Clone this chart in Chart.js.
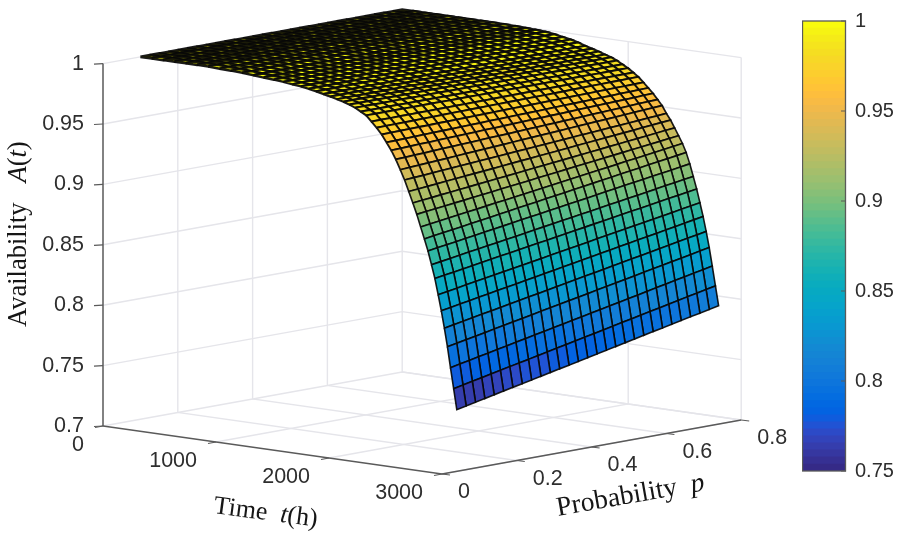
<!DOCTYPE html>
<html>
<head>
<meta charset="utf-8">
<title>Availability surface</title>
<script src="https://cdn.jsdelivr.net/npm/chart.js@4"></script>
<style>
  html, body { margin: 0; padding: 0; background: #fff; }
  #wrap { position: relative; width: 898px; height: 537px; overflow: hidden; }
  canvas { position: absolute; top: 0; }
  #surface { left: 0; }
  #colorbar { left: 802px; }
</style>
</head>
<body>
<div id="wrap">
  <canvas id="surface" width="898" height="537"></canvas>
  <canvas id="colorbar" width="96" height="537"></canvas>
</div>
<script>
// ── Data ────────────────────────────────────────────────────────────────────
const times = [0,100,200,300,400,500,600,700,800,900,1000,1090,1180,1265,1345,1420,1490,1555,1620,1680,1740,1795,1850,1900,1950,1998,2045,2090,2135,2178,2220,2260,2300,2338,2375,2411,2446,2480,2513,2545,2576,2606,2635,2663,2690,2717,2744,2772,2800];
const probs = [.1,.125,.15,.175,.2,.225,.25,.275,.3,.325,.35,.375,.4,.425,.45,.475,.5,.525,.55,.575,.6,.625,.65,.675,.7,.725,.75,.775,.8];

// one row per time, one column per probability
const availability = [
  [1,1,1,1,1,1,1,1,1,1,1,1,1,1,1,1,1,1,1,1,1,1,1,1,1,1,1,1,1],
  [1,1,1,1,1,1,1,1,1,1,1,1,1,1,1,1,1,1,1,1,1,1,1,1,1,1,1,1,1],
  [1,1,1,1,1,1,1,1,1,1,1,1,1,1,1,1,1,1,1,1,1,1,1,1,1,1,1,1,1],
  [1,1,1,1,1,1,1,1,1,1,1,1,1,1,1,1,1,1,1,1,1,1,1,1,1,1,1,1,1],
  [1,1,1,1,1,1,1,1,1,1,1,1,1,1,1,1,1,1,1,1,1,1,1,1,1,1,1,1,1],
  [1,1,1,1,1,1,1,1,1,1,1,1,1,1,1,1,1,1,1,1,1,1,1,1,1,1,1,1,1],
  [1,1,1,1,1,1,1,1,1,1,1,1,1,1,1,1,1,1,1,1,1,1,1,1,1,1,1,1,1],
  [.9995,.9995,.9995,.9996,.9996,.9996,.9996,.9996,.9996,.9997,.9997,.9997,.9997,.9997,.9998,.9998,.9998,.9998,.9998,.9998,.9999,.9999,.9999,.9999,.9999,.9999,1,1,1],
  [.9992,.9992,.9993,.9993,.9993,.9993,.9994,.9994,.9994,.9995,.9995,.9995,.9995,.9996,.9996,.9996,.9997,.9997,.9997,.9997,.9998,.9998,.9998,.9999,.9999,.9999,.9999,1,1],
  [.9987,.9987,.9988,.9988,.9989,.9989,.999,.999,.999,.9991,.9991,.9992,.9992,.9993,.9993,.9993,.9994,.9994,.9995,.9995,.9996,.9996,.9996,.9997,.9997,.9998,.9998,.9999,.9999],
  [.998,.9981,.9981,.9982,.9982,.9983,.9983,.9984,.9985,.9985,.9986,.9986,.9987,.9987,.9988,.9989,.9989,.999,.999,.9991,.9991,.9992,.9993,.9993,.9994,.9994,.9995,.9995,.9996],
  [.9973,.9974,.9974,.9975,.9976,.9977,.9977,.9978,.9979,.9979,.998,.9981,.9982,.9982,.9983,.9984,.9984,.9985,.9986,.9987,.9987,.9988,.9989,.9989,.999,.9991,.9992,.9992,.9993],
  [.9967,.9968,.9969,.9969,.997,.9971,.9972,.9973,.9974,.9974,.9975,.9976,.9977,.9978,.9979,.9979,.998,.9981,.9982,.9983,.9983,.9984,.9985,.9986,.9987,.9988,.9988,.9989,.999],
  [.996,.9961,.9962,.9963,.9964,.9964,.9965,.9966,.9967,.9968,.9969,.997,.9971,.9972,.9973,.9973,.9974,.9975,.9976,.9977,.9978,.9979,.998,.9981,.9981,.9982,.9983,.9984,.9985],
  [.9951,.9952,.9953,.9954,.9954,.9955,.9956,.9957,.9958,.9959,.996,.996,.9961,.9962,.9963,.9964,.9965,.9966,.9966,.9967,.9968,.9969,.997,.9971,.9972,.9972,.9973,.9974,.9975],
  [.9943,.9944,.9944,.9945,.9946,.9946,.9947,.9948,.9948,.9949,.995,.995,.9951,.9952,.9953,.9953,.9954,.9955,.9955,.9956,.9957,.9957,.9958,.9959,.9959,.996,.9961,.9961,.9962],
  [.9932,.9933,.9933,.9934,.9935,.9935,.9936,.9937,.9937,.9938,.9938,.9939,.994,.994,.9941,.9942,.9942,.9943,.9944,.9944,.9945,.9946,.9946,.9947,.9947,.9948,.9949,.9949,.995],
  [.992,.9921,.9921,.9922,.9922,.9923,.9923,.9924,.9924,.9925,.9925,.9926,.9926,.9927,.9928,.9928,.9929,.9929,.993,.993,.9931,.9931,.9932,.9932,.9933,.9933,.9934,.9934,.9935],
  [.9906,.9906,.9907,.9907,.9907,.9908,.9908,.9908,.9909,.9909,.9909,.991,.991,.991,.9911,.9911,.9911,.9911,.9912,.9912,.9912,.9913,.9913,.9913,.9914,.9914,.9914,.9915,.9915],
  [.9894,.9894,.9894,.9895,.9895,.9895,.9895,.9895,.9895,.9896,.9896,.9896,.9896,.9896,.9897,.9897,.9897,.9897,.9897,.9897,.9898,.9898,.9898,.9898,.9898,.9898,.9899,.9899,.9899],
  [.988,.988,.988,.988,.988,.9881,.9881,.9881,.9881,.9881,.9881,.9881,.9881,.9881,.9882,.9882,.9882,.9882,.9882,.9882,.9882,.9882,.9882,.9882,.9883,.9883,.9883,.9883,.9883],
  [.9866,.9866,.9866,.9866,.9866,.9866,.9866,.9866,.9866,.9866,.9866,.9866,.9866,.9866,.9866,.9866,.9866,.9866,.9866,.9866,.9866,.9866,.9866,.9866,.9866,.9866,.9866,.9866,.9866],
  [.985,.985,.985,.985,.985,.985,.985,.985,.985,.985,.985,.985,.985,.985,.985,.985,.985,.985,.985,.985,.985,.985,.985,.985,.985,.985,.985,.985,.985],
  [.983,.983,.983,.983,.983,.983,.983,.983,.983,.983,.983,.983,.983,.983,.983,.983,.983,.983,.983,.983,.983,.983,.983,.983,.983,.983,.983,.983,.983],
  [.9805,.9805,.9805,.9805,.9805,.9805,.9805,.9805,.9805,.9805,.9805,.9805,.9805,.9805,.9805,.9805,.9805,.9805,.9805,.9805,.9805,.9805,.9805,.9805,.9805,.9805,.9805,.9805,.9805],
  [.978,.978,.978,.978,.978,.978,.978,.978,.978,.978,.978,.978,.978,.978,.978,.978,.978,.978,.978,.978,.978,.978,.978,.978,.978,.978,.978,.978,.978],
  [.9735,.9736,.9736,.9737,.9737,.9738,.9738,.9739,.9739,.974,.974,.9741,.9741,.9742,.9743,.9743,.9744,.9744,.9745,.9745,.9746,.9746,.9747,.9747,.9748,.9748,.9749,.9749,.975],
  [.969,.9691,.9692,.9693,.9694,.9695,.9696,.9698,.9699,.97,.9701,.9702,.9703,.9704,.9705,.9706,.9707,.9708,.9709,.971,.9711,.9713,.9714,.9715,.9716,.9717,.9718,.9719,.972],
  [.964,.9641,.9643,.9644,.9646,.9647,.9649,.965,.9651,.9653,.9654,.9656,.9657,.9659,.966,.9661,.9663,.9664,.9666,.9667,.9669,.967,.9671,.9673,.9674,.9676,.9677,.9679,.968],
  [.958,.9582,.9584,.9586,.9589,.9591,.9593,.9595,.9597,.9599,.9601,.9604,.9606,.9608,.961,.9612,.9614,.9616,.9619,.9621,.9623,.9625,.9627,.9629,.9631,.9634,.9636,.9638,.964],
  [.952,.9523,.9526,.9529,.9531,.9534,.9537,.954,.9543,.9546,.9549,.9551,.9554,.9557,.956,.9563,.9566,.9569,.9571,.9574,.9577,.958,.9583,.9586,.9589,.9591,.9594,.9597,.96],
  [.945,.9454,.9458,.9461,.9465,.9469,.9473,.9476,.948,.9484,.9488,.9491,.9495,.9499,.9503,.9506,.951,.9514,.9518,.9521,.9525,.9529,.9533,.9536,.954,.9544,.9548,.9551,.9555],
  [.937,.9375,.938,.9385,.939,.9395,.94,.9405,.941,.9415,.942,.9425,.943,.9435,.944,.9445,.945,.9455,.946,.9465,.947,.9475,.948,.9485,.949,.9495,.95,.9505,.951],
  [.929,.9296,.9301,.9307,.9313,.9319,.9324,.933,.9336,.9341,.9347,.9353,.9359,.9364,.937,.9376,.9381,.9387,.9393,.9399,.9404,.941,.9416,.9421,.9427,.9433,.9439,.9444,.945],
  [.92,.9207,.9214,.9221,.9229,.9236,.9243,.925,.9257,.9264,.9271,.9279,.9286,.9293,.93,.9307,.9314,.9321,.9329,.9336,.9343,.935,.9357,.9364,.9371,.9379,.9386,.9393,.94],
  [.911,.9118,.9126,.9135,.9143,.9151,.9159,.9168,.9176,.9184,.9192,.92,.9209,.9217,.9225,.9233,.9241,.925,.9258,.9266,.9274,.9283,.9291,.9299,.9307,.9315,.9324,.9332,.934],
  [.902,.9029,.9039,.9048,.9057,.9066,.9076,.9085,.9094,.9104,.9113,.9122,.9131,.9141,.915,.9159,.9169,.9178,.9187,.9196,.9206,.9215,.9224,.9234,.9243,.9252,.9261,.9271,.928],
  [.892,.8931,.8941,.8952,.8963,.8974,.8984,.8995,.9006,.9016,.9027,.9038,.9049,.9059,.907,.9081,.9091,.9102,.9113,.9124,.9134,.9145,.9156,.9166,.9177,.9188,.9199,.9209,.922],
  [.8825,.8837,.8848,.886,.8871,.8883,.8895,.8906,.8918,.8929,.8941,.8953,.8964,.8976,.8988,.8999,.9011,.9022,.9034,.9046,.9057,.9069,.908,.9092,.9104,.9115,.9127,.9138,.915],
  [.873,.8742,.8754,.8765,.8777,.8789,.8801,.8813,.8824,.8836,.8848,.886,.8871,.8883,.8895,.8907,.8919,.893,.8942,.8954,.8966,.8978,.8989,.9001,.9013,.9025,.9036,.9048,.906],
  [.862,.8632,.8644,.8656,.8669,.8681,.8693,.8705,.8717,.8729,.8741,.8754,.8766,.8778,.879,.8802,.8814,.8826,.8839,.8851,.8863,.8875,.8887,.8899,.8911,.8924,.8936,.8948,.896],
  [.851,.8523,.8535,.8548,.856,.8573,.8585,.8598,.861,.8623,.8635,.8648,.866,.8673,.8685,.8698,.871,.8723,.8735,.8748,.876,.8773,.8785,.8798,.881,.8823,.8835,.8848,.886],
  [.838,.8393,.8406,.842,.8433,.8446,.8459,.8473,.8486,.8499,.8512,.8525,.8539,.8552,.8565,.8578,.8591,.8605,.8618,.8631,.8644,.8658,.8671,.8684,.8697,.871,.8724,.8737,.875],
  [.825,.8264,.8278,.8292,.8306,.832,.8334,.8348,.8361,.8375,.8389,.8403,.8417,.8431,.8445,.8459,.8473,.8487,.8501,.8515,.8529,.8543,.8556,.857,.8584,.8598,.8612,.8626,.864],
  [.811,.8125,.8139,.8154,.8169,.8183,.8198,.8213,.8227,.8242,.8256,.8271,.8286,.83,.8315,.833,.8344,.8359,.8374,.8388,.8403,.8417,.8432,.8447,.8461,.8476,.8491,.8505,.852],
  [.796,.7975,.7991,.8006,.8021,.8037,.8052,.8068,.8083,.8098,.8114,.8129,.8144,.816,.8175,.819,.8206,.8221,.8236,.8252,.8267,.8283,.8298,.8313,.8329,.8344,.8359,.8375,.839],
  [.779,.7806,.7822,.7838,.7854,.787,.7886,.7903,.7919,.7935,.7951,.7967,.7983,.7999,.8015,.8031,.8047,.8063,.8079,.8095,.8111,.8128,.8144,.816,.8176,.8192,.8208,.8224,.824],
  [.762,.7636,.7653,.7669,.7686,.7702,.7719,.7735,.7751,.7768,.7784,.7801,.7817,.7834,.785,.7866,.7883,.7899,.7916,.7932,.7949,.7965,.7981,.7998,.8014,.8031,.8047,.8064,.808],
  [.745,.7467,.7484,.75,.7517,.7534,.7551,.7568,.7584,.7601,.7618,.7635,.7651,.7668,.7685,.7702,.7719,.7735,.7752,.7769,.7786,.7803,.7819,.7836,.7853,.787,.7886,.7903,.792]
];

const timeTicks = [0,1000,2000,3000];
const probTicks = [0,.2,.4,.6,.8];
const availTicks = [.7,.75,.8,.85,.9,.95,1];
const barTicks = [.75,.8,.85,.9,.95,1];

// parula, 64 levels
const parula = [
  [.2081,.1663,.5292],[.2116,.1898,.5777],[.2123,.2138,.627],[.2081,.2386,.6771],[.1959,.2645,.7279],[.1707,.2919,.7792],[.1253,.3242,.8303],[.0591,.3598,.8683],
  [.0117,.3875,.882],[.006,.4086,.8828],[.0165,.4266,.8786],[.0329,.443,.872],[.0498,.4586,.8641],[.0629,.4737,.8554],[.0723,.4887,.8467],[.0779,.504,.8384],
  [.0793,.52,.8312],[.0749,.5375,.8263],[.0641,.557,.824],[.0488,.5772,.8228],[.0343,.5966,.8199],[.0265,.6137,.8135],[.0239,.6287,.8038],[.0231,.6418,.7913],
  [.0228,.6535,.7768],[.0267,.6642,.7607],[.0384,.6743,.7436],[.059,.6838,.7254],[.0843,.6928,.7062],[.1133,.7015,.6859],[.1453,.7098,.6646],[.1801,.7177,.6424],
  [.2178,.725,.6193],[.2586,.7317,.5954],[.3022,.7376,.5712],[.3482,.7424,.5473],[.3953,.7459,.5244],[.442,.7481,.5033],[.4871,.7491,.484],[.53,.7491,.4661],
  [.5709,.7485,.4494],[.6099,.7473,.4337],[.6473,.7456,.4188],[.6834,.7435,.4044],[.7184,.7411,.3905],[.7525,.7384,.3768],[.7858,.7356,.3633],[.8185,.7327,.3498],
  [.8507,.7299,.336],[.8824,.7274,.3217],[.9139,.7258,.3063],[.945,.7261,.2886],[.9739,.7314,.2666],[.9938,.7455,.2403],[.999,.7653,.2164],[.9955,.7861,.1967],
  [.988,.8066,.1794],[.9789,.8271,.1633],[.9697,.8481,.1475],[.9626,.8705,.1309],[.9589,.8949,.1132],[.9598,.9218,.0948],[.9661,.9514,.0755],[.9763,.9831,.0538]
];

const GRID = '#e5e5ea';
const AXIS = '#5a5a5a';
const TICK_TEXT = '#2e2e2e';
const SANS = '"Liberation Sans", Arial, sans-serif';
const SERIF = '"Liberation Serif", "Times New Roman", serif';

// ── Fixed 3D view: (t, p, A) → page coordinates ─────────────────────────────
function project(t, p, a) {
  return {
    x: 103 + 0.113 * t + 374 * p,
    y: 426 + 0.016 * t - 67.5 * p - 1208 * (a - 0.7)
  };
}

function colorFor(v) {
  const n = parula.length;
  const i = Math.max(0, Math.min(n - 1, Math.floor((v - 0.75) / 0.25 * n)));
  return cssColor(parula[i]);
}

function cssColor(c) {
  return 'rgb(' + c.map(k => Math.round(k * 255)).join(',') + ')';
}

// ── Datasets, pushed in painter's order ─────────────────────────────────────
const datasets = [];

function addLine(points, color, width) {
  datasets.push({ data: points, showLine: true, fill: false, pointRadius: 0, borderColor: color, borderWidth: width });
}

const tMax = timeTicks[timeTicks.length - 1];
const pMax = probTicks[probTicks.length - 1];
const aMin = availTicks[0];
const aMax = availTicks[availTicks.length - 1];

// box walls and floor
availTicks.forEach(a => {
  addLine([project(0, 0, a), project(0, pMax, a), project(tMax, pMax, a)], GRID, 1.4);
});
probTicks.slice(1).forEach(p => {
  addLine([project(0, p, aMax), project(0, p, aMin), project(tMax, p, aMin)], GRID, 1.4);
});
timeTicks.slice(1).forEach(t => {
  addLine([project(t, pMax, aMax), project(t, pMax, aMin), project(t, 0, aMin)], GRID, 1.4);
});

// axes with their tick marks
addLine([project(0, 0, aMax), project(0, 0, aMin)], AXIS, 1.5);
addLine([project(0, 0, aMin), project(tMax, 0, aMin)], AXIS, 1.5);
addLine([project(tMax, 0, aMin), project(tMax, pMax, aMin)], AXIS, 1.5);
availTicks.forEach(a => {
  const s = project(0, 0, a);
  addLine([s, { x: s.x - 9, y: s.y + 0.5 }], AXIS, 1.2);
});
timeTicks.forEach(t => {
  const s = project(t, 0, aMin);
  addLine([s, { x: s.x - 8, y: s.y + 1.5 }], AXIS, 1.2);
});
probTicks.forEach(p => {
  const s = project(tMax, p, aMin);
  addLine([s, { x: s.x + 8, y: s.y + 1 }], AXIS, 1.2);
});

// surface cells, back to front; a cell takes the colour of its first corner.
// The far rows are squeezed together, so their mesh lines are drawn heavier
for (let i = 0; i < times.length - 1; i++) {
  const meshWidth = Math.max(1.6, 2.7 - i * 0.03);
  for (let j = probs.length - 2; j >= 0; j--) {
    const c = project(times[i], probs[j], availability[i][j]);
    datasets.push({
      data: [
        c,
        project(times[i], probs[j + 1], availability[i][j + 1]),
        project(times[i + 1], probs[j + 1], availability[i + 1][j + 1]),
        project(times[i + 1], probs[j], availability[i + 1][j]),
        c
      ],
      showLine: true,
      fill: 'shape',
      pointRadius: 0,
      backgroundColor: colorFor(availability[i][j]),
      borderColor: 'rgba(8,8,8,0.92)',
      borderWidth: meshWidth
    });
  }
}

// the library paints the lowest order last
datasets.forEach((d, i) => { d.order = datasets.length - i; });

// ── Text that sits in the 3D view ───────────────────────────────────────────
function drawRuns(ctx, runs, x, y, angle, size) {
  ctx.save();
  ctx.translate(x, y);
  ctx.rotate(angle * Math.PI / 180);
  ctx.textAlign = 'left';
  ctx.textBaseline = 'alphabetic';
  ctx.fillStyle = '#161616';
  let pos = 0;
  runs.forEach(r => {
    ctx.font = (r[1] ? 'italic ' : '') + size + 'px ' + SERIF;
    ctx.fillText(r[0], pos, 0);
    pos += ctx.measureText(r[0]).width;
  });
  ctx.restore();
}

const viewText = {
  id: 'viewText',
  afterDraw(chart) {
    const { ctx, scales } = chart;
    const put = (text, pt, dx, dy, align) => {
      ctx.textAlign = align;
      ctx.fillText(text, scales.x.getPixelForValue(pt.x) + dx, scales.y.getPixelForValue(pt.y) + dy);
    };
    ctx.save();
    ctx.font = '21.5px ' + SANS;
    ctx.fillStyle = TICK_TEXT;
    ctx.textBaseline = 'middle';
    availTicks.forEach(a => put(String(a), project(0, 0, a), -19, 0, 'right'));
    timeTicks.forEach(t => put(String(t), project(t, 0, aMin), -19, 19.5, 'right'));
    probTicks.forEach(p => put(String(p), project(tMax, p, aMin), 16, 18.5, 'left'));
    ctx.restore();

    drawRuns(ctx, [['Availability   ', false], ['A', true], ['(', false], ['t', true], [')', false]], 26, 327, -90, 26.5);
    drawRuns(ctx, [['Time  ', false], ['t', true], ['(h)', false]], 213, 513, 7.5, 26);
    drawRuns(ctx, [['Probability  ', false], ['p', true]], 558, 516, -10, 27.5);
  }
};

new Chart(document.getElementById('surface'), {
  type: 'scatter',
  data: { datasets },
  options: {
    responsive: false,
    animation: false,
    events: [],
    parsing: false,
    layout: { padding: 0 },
    plugins: { legend: { display: false }, tooltip: { enabled: false } },
    scales: {
      x: { type: 'linear', display: false, min: 0, max: 898 },
      y: { type: 'linear', display: false, min: 0, max: 537, reverse: true }
    }
  },
  plugins: [viewText]
});

// ── Colorbar ────────────────────────────────────────────────────────────────
const barFrame = {
  id: 'barFrame',
  afterDraw(chart) {
    const { ctx, chartArea: a, scales } = chart;
    ctx.save();
    ctx.strokeStyle = AXIS;
    ctx.lineWidth = 1.3;
    ctx.strokeRect(a.left + 0.5, a.top, a.right - a.left - 1, a.bottom - a.top);
    ctx.lineWidth = 1;
    barTicks.forEach(v => {
      const y = scales.y.getPixelForValue(v);
      ctx.beginPath();
      ctx.moveTo(a.right - 5, y);
      ctx.lineTo(a.right, y);
      ctx.stroke();
    });
    ctx.restore();
  }
};

new Chart(document.getElementById('colorbar'), {
  type: 'bar',
  data: {
    labels: [''],
    // each level runs from the bottom so no seams show between levels
    datasets: parula.map((c, i) => ({
      data: [[0.75, 0.75 + (i + 1) * 0.25 / parula.length]],
      backgroundColor: cssColor(c),
      barPercentage: 1,
      categoryPercentage: 1,
      grouped: false
    }))
  },
  options: {
    responsive: false,
    animation: false,
    events: [],
    layout: { padding: { top: 10, bottom: 66 } },
    plugins: { legend: { display: false }, tooltip: { enabled: false } },
    scales: {
      x: { display: false },
      y: {
        position: 'right',
        min: 0.75,
        max: 1,
        border: { display: false },
        grid: { drawOnChartArea: false, drawTicks: false },
        afterFit(s) { s.width = 52; },
        afterBuildTicks(s) { s.ticks = barTicks.map(v => ({ value: v })); },
        ticks: {
          padding: 9,
          color: TICK_TEXT,
          font: { family: SANS, size: 20 },
          callback: v => String(v)
        }
      }
    }
  },
  plugins: [barFrame]
});
</script>
</body>
</html>
